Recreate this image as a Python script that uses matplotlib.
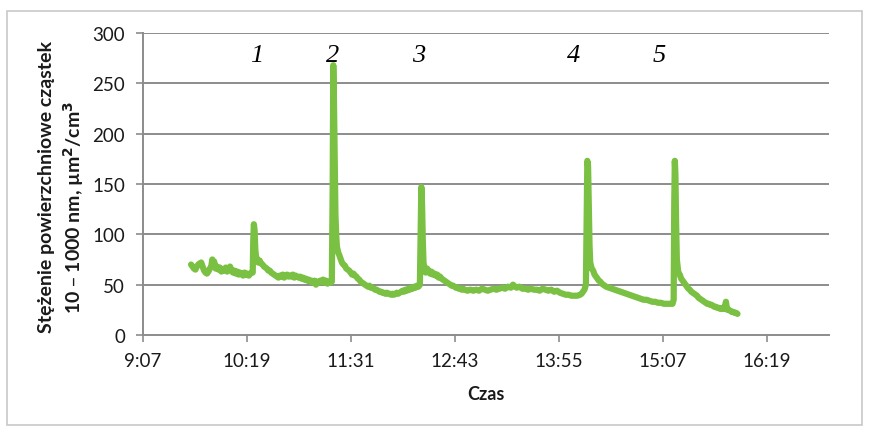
import matplotlib
matplotlib.use("Agg")
import matplotlib.pyplot as plt
from matplotlib.patches import Rectangle

# time in minutes after midnight
time_min = [
    580.5, 581.5, 582.5, 583.5, 584.5, 585.5, 586.5, 587.5, 588.5, 589.5, 590.5, 591.5, 592.5, 593.5, 594.5,
    595.2, 595.8, 596.5, 597.5, 598.5, 599.5, 600.5, 601.5, 602.5, 603.5, 604.5, 605.5, 606.5, 607.5, 608.5,
    609.5, 610.5, 611.5, 612.5, 613.5, 614.5, 615.5, 616.5, 617.5, 618.5, 619.5, 620.5, 621.5, 622.5, 623.2,
    623.6, 624.0, 624.5, 625.0, 625.5, 626.3, 627, 628, 629, 630, 631, 632, 633, 634, 635, 636, 637, 638, 639,
    640, 641, 642, 643, 644, 645, 646, 647, 648, 649, 650, 651, 652, 653, 654, 655, 656, 657, 658, 659, 660,
    661, 662, 663, 664, 665, 666, 667, 668, 669, 670, 671, 672, 673, 674, 675, 676, 677, 678,
    678.6, 679.0, 679.5, 680.0, 680.5, 681, 681.5, 682.4, 683, 684, 685, 686, 687, 688, 689, 690, 691, 692,
    693, 694, 695, 696, 697, 698, 699, 700, 701, 702, 703, 704, 705, 706, 707, 708, 709, 710, 711, 712, 713,
    714, 715, 716, 717, 718, 719, 720, 721, 722, 723, 724, 725, 726, 727, 728, 729, 730, 731, 732, 733, 734,
    735, 736, 737, 738, 739,
    739.6, 740.0, 740.5, 741, 741.5, 742, 743, 744, 745, 746, 747, 748, 749, 750, 751, 752, 753, 754, 755,
    756, 757, 758, 759, 760, 761, 762, 763, 764, 765, 766, 767, 768, 769, 770, 772, 774, 776, 778, 780, 782,
    784, 786, 788, 790, 792, 794, 796, 798, 800, 802, 803.5, 805, 806, 808, 810, 812, 814, 816, 818, 820,
    822, 824, 826, 828, 830, 832, 834, 836, 838, 840, 842, 844, 846, 848, 850, 851, 852, 853, 854,
    854.6, 855.0, 855.5, 856, 856.5, 857, 858, 859, 860, 861, 862, 863, 864, 865, 866, 867, 868, 870, 872,
    874, 876, 878, 880, 882, 884, 886, 888, 890, 892, 894, 896, 898, 900, 902, 904, 906, 908, 910, 912, 914,
    914.8,
    915.2, 915.6, 916.0, 916.5, 917, 918, 919, 920, 921, 922, 923, 924, 925, 926, 927, 928, 929, 930, 931,
    932, 933, 934, 935, 936, 937, 938, 939, 940, 941, 942, 943, 944, 945, 946, 947, 948, 949, 950, 951,
    951.5, 952, 953, 954, 955, 956, 957, 958, 959,
]

surface_conc = [
    70, 68, 66, 65, 68, 70, 71, 72, 68, 64, 62, 61, 63, 66, 68,
    75, 70, 73, 66, 68, 65, 67, 63, 65, 64, 67, 63, 66, 68, 64,
    62, 64, 61, 63, 60, 62, 61, 59, 62, 60, 61, 59, 61, 62, 62,
    95, 110, 104, 85, 78, 75, 72, 74, 71, 70, 68, 67, 66, 64, 64, 62, 61, 60, 59,
    58, 57, 59, 58, 60, 57, 59, 60, 58, 59, 58, 60, 57, 59, 58, 57, 58, 56, 57, 55, 56,
    54, 55, 53, 54, 52, 54, 50, 53, 52, 54, 53, 55, 52, 54, 51, 53, 52, 53,
    150, 268, 230, 175, 120, 100, 88, 82, 80, 76, 72, 70, 69, 66, 65, 64, 62, 60,
    61, 59, 58, 56, 55, 53, 52, 51, 50, 49, 48, 49, 47, 47, 46, 45, 45, 44, 43, 43, 42,
    42, 41, 42, 41, 41, 40, 41, 40, 41, 42, 41, 42, 43, 44, 43, 45, 44, 46, 45, 47, 46,
    48, 47, 49, 48, 50,
    110, 147, 130, 95, 72, 68, 62, 66, 64, 61, 63, 60, 61, 59, 60, 57, 58, 56, 55,
    54, 53, 52, 51, 50, 49, 49, 48, 47, 47, 46, 46, 45, 46, 45, 44, 45, 44, 45, 44, 46,
    45, 44, 45, 46, 45, 46, 47, 46, 48, 47, 50, 48, 47, 48, 46, 46, 45, 46, 45, 45,
    44, 46, 45, 44, 45, 43, 44, 42, 41, 40, 40, 39, 39, 39, 40, 41, 43, 45, 50,
    120, 173, 168, 130, 90, 72, 66, 64, 60, 58, 56, 54, 53, 51, 50, 49, 48, 47, 46,
    45, 44, 43, 42, 41, 40, 39, 38, 37, 36, 35, 35, 34, 33, 33, 32, 32, 31, 31, 31, 31,
    35,
    130, 173, 160, 110, 75, 62, 60, 56, 54, 52, 50, 48, 46, 45, 43, 42, 41, 40, 39,
    37, 36, 35, 34, 33, 32, 31, 31, 30, 30, 29, 28, 28, 27, 27, 26, 26, 27, 26, 33,
    28, 25, 25, 24, 23, 23, 22, 22, 21,
]

peak_labels = ["1", "2", "3", "4", "5"]
peak_label_time = [626, 678.7, 738.3, 845.6, 905]

x_ticks_min = [547.2, 619.2, 691.2, 763.2, 835.2, 907.2, 979.2]
x_tick_labels = ["9:07", "10:19", "11:31", "12:43", "13:55", "15:07", "16:19"]
y_ticks = [0, 50, 100, 150, 200, 250, 300]

FONT = "Lato"
W, H = 869, 427
fig = plt.figure(figsize=(W / 100, H / 100), dpi=100)
fig.patch.set_facecolor("white")

# outer chart frame
fig.patches.append(Rectangle((7 / W, 1 - 426 / H), (862 - 7) / W, (426 - 12) / H,
                             transform=fig.transFigure, fill=False,
                             edgecolor="#c8c8c8", linewidth=1.2))

ax = fig.add_axes([143 / W, 1 - 336 / H, (829 - 143) / W, (336 - 34) / H])
ax.set_xlim(547.2, 1022.4)
ax.set_ylim(0, 300)

grid_col = "#8c8c8c"
for y in y_ticks[1:]:
    ax.axhline(y, color=grid_col, linewidth=1.4, zorder=1)

ax.plot(time_min, surface_conc, color="#7ac143", linewidth=4.5,
        solid_joinstyle="round", solid_capstyle="round", zorder=3)

for lab, t in zip(peak_labels, peak_label_time):
    ax.text(t, 278, lab, fontsize=19, fontstyle="italic", family="Liberation Serif",
            ha="center", va="center", color="black", zorder=4)

for s in ["top", "right"]:
    ax.spines[s].set_visible(False)
for s in ["left", "bottom"]:
    ax.spines[s].set_color(grid_col)
    ax.spines[s].set_linewidth(1.4)

ax.set_xticks(x_ticks_min)
ax.set_xticklabels(x_tick_labels)
ax.set_yticks(y_ticks)
ax.tick_params(axis="both", direction="out", length=5, width=1.2, color=grid_col,
               labelsize=13.5, labelcolor="#1a1a1a")
ax.tick_params(axis="x", pad=7)
ax.tick_params(axis="y", pad=8)
for lab in ax.get_xticklabels() + ax.get_yticklabels():
    lab.set_family(FONT)

fig.text(486 / W, 1 - 395 / H, "Czas", ha="center", va="center",
         fontsize=13, fontweight="bold", family=FONT, color="#1a1a1a")
fig.text(47 / W, 1 - 187 / H, "Stężenie powierzchniowe cząstek", rotation=90,
         ha="center", va="center", fontsize=14, fontweight="bold",
         family=FONT, color="#1a1a1a")
fig.text(74 / W, 1 - 207 / H, "10 – 1000 nm, µm$^\\mathbf{2}$/cm$^\\mathbf{3}$", rotation=90,
         ha="center", va="center", fontsize=14, fontweight="bold",
         family=FONT, color="#1a1a1a")

fig.savefig("out.png", dpi=100, facecolor="white")
